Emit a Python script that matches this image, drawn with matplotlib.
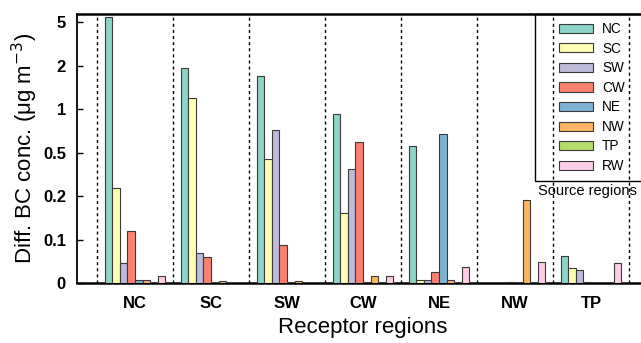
import numpy as np
import matplotlib
matplotlib.use("Agg")
import matplotlib.pyplot as plt
from matplotlib.patches import Patch, Rectangle
from matplotlib.ticker import FixedLocator, FixedFormatter

plt.rcParams['font.family'] = ['Liberation Sans', 'DejaVu Sans']

receptors = ["NC", "SC", "SW", "CW", "NE", "NW", "TP"]
sources = ["NC", "SC", "SW", "CW", "NE", "NW", "TP", "RW"]
colors = ["#8DD3C7", "#FFFFB3", "#BEBADA", "#FB8072", "#80B1D3", "#FDB462", "#B3DE69", "#FCCDE5"]

# values[source][receptor]
src_NC = [5.33, 1.95, 1.77, 0.94, 0.575, 0.0, 0.063]
src_SC = [0.254, 1.25, 0.457, 0.162, 0.006, 0.0, 0.034]
src_SW = [0.045, 0.068, 0.76, 0.386, 0.008, 0.0, 0.029]
src_CW = [0.12, 0.060, 0.087, 0.62, 0.026, 0.002, 0.003]
src_NE = [0.008, 0.0, 0.002, 0.003, 0.71, 0.0, 0.0]
src_NW = [0.008, 0.005, 0.005, 0.015, 0.006, 0.19, 0.0]
src_TP = [0.0, 0.0, 0.0, 0.0, 0.0, 0.0, 0.0]
src_RW = [0.017, 0.0, 0.0, 0.015, 0.037, 0.049, 0.045]
series = [src_NC, src_SC, src_SW, src_CW, src_NE, src_NW, src_TP, src_RW]

ytick_vals = [0, 0.1, 0.2, 0.5, 1, 2, 5]
ytick_labels = ["0", "0.1", "0.2", "0.5", "1", "2", "5"]

# piecewise-linear axis
_v = np.array([0, 0.1, 0.2, 0.5, 1, 2, 5, 11])
_p = np.array([0, 1, 2, 3, 4, 5, 6, 8])
def fwd(x):
    return np.interp(x, _v, _p)
def inv(y):
    return np.interp(y, _p, _v)

W, H = 641, 343
fig = plt.figure(figsize=(W / 100, H / 100), dpi=100)
ax = fig.add_axes([77 / W, 1 - 283 / H, 572 / W, 269 / H])
ax.set_yscale('function', functions=(fwd, inv))

x = np.arange(len(receptors))
bw = 0.1
for j, (vals, c) in enumerate(zip(series, colors)):
    h = np.array(vals)
    m = h > 0
    ax.bar(x[m] + (j - 3.5) * bw, h[m], width=bw, color=c, edgecolor='#3a3a3a',
           linewidth=0.8, zorder=3)

for k in range(len(receptors) + 1):
    ax.axvline(k - 0.5, color='black', linestyle=(0, (2.2, 2.2)), linewidth=1.0, zorder=2)

ax.set_xlim(-0.763, 6.763)
ax.set_ylim(0, 5.57)
ax.yaxis.set_major_locator(FixedLocator(ytick_vals))
ax.yaxis.set_major_formatter(FixedFormatter(ytick_labels))
ax.yaxis.set_minor_locator(FixedLocator([]))
ax.set_xticks(x)
ax.set_xticklabels(receptors)
for lab in ax.get_xticklabels() + ax.get_yticklabels():
    lab.set_fontweight('bold')
    lab.set_fontsize(12)
ax.tick_params(axis='y', direction='in', length=4, width=1, pad=8)
ax.tick_params(axis='x', length=0, pad=9)
for s in ax.spines.values():
    s.set_linewidth(1.8)
ax.spines['left'].set_linewidth(1.3)

ax.set_ylabel("Diff. BC conc. (μg m$^{-3}$)", fontsize=16, labelpad=2)
ax.set_xlabel("Receptor regions", fontsize=16, labelpad=5)

handles = [Patch(facecolor=c, edgecolor='#3a3a3a', linewidth=0.8) for c in colors]
fs = 9.8
fspx = fs * 100 / 72
fig.legend(handles, sources, loc='upper left',
           bbox_to_anchor=(559.3 / W, 1 - 22.0 / H), frameon=False,
           fontsize=fs, borderpad=0, borderaxespad=0,
           handlelength=34 / fspx, handleheight=9 / fspx,
           handletextpad=0.65, labelspacing=0.41)
fig.patches.append(Rectangle((535 / W, 1 - 181 / H), 130 / W, 167 / H,
                             transform=fig.transFigure, fill=False,
                             edgecolor='black', linewidth=1.0))
fig.text(587 / W, 1 - 191 / H, "Source regions", fontsize=10.5,
         ha='center', va='center')

fig.savefig("out.png", dpi=100)
